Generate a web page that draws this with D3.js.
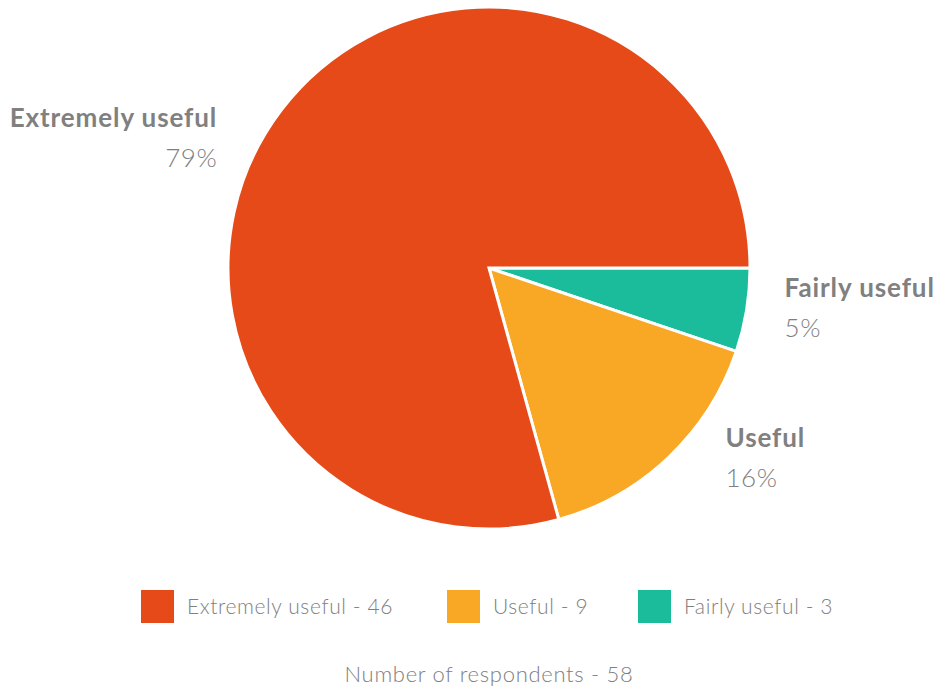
<!DOCTYPE html>
<html>
<head>
<meta charset="utf-8">
<script src="https://cdn.jsdelivr.net/npm/d3@7"></script>
<style>
  html, body { margin: 0; padding: 0; background: #ffffff; }
  svg { display: block; font-family: "Lato", "Open Sans", sans-serif; }
</style>
</head>
<body>
<svg id="chart" width="938" height="690"></svg>
<script>
// Survey responses: how useful respondents found it
const categories = ["Fairly useful", "Useful", "Extremely useful"];
const counts = [3, 9, 46];
const colors = ["#1ABC9C", "#F9A825", "#E64A19"];
const legendOrder = ["Extremely useful", "Useful", "Fairly useful"];
const footnote = "Number of respondents - 58";

const width = 938, height = 690;
const cx = 489, cy = 268, radius = 261;

const svg = d3.select("#chart");
const g = svg.append("g").attr("transform", `translate(${cx},${cy})`);

const color = d3.scaleOrdinal().domain(categories).range(colors);
const total = d3.sum(counts);
const rows = categories.map((c, i) => ({ name: c, value: counts[i] }));

// Slices run clockwise starting at 3 o'clock
const pie = d3.pie()
  .value(d => d.value)
  .sort(null)
  .startAngle(Math.PI / 2)
  .endAngle(Math.PI / 2 + 2 * Math.PI);

const arc = d3.arc().innerRadius(0).outerRadius(radius);
const arcs = pie(rows);

g.selectAll("path.slice")
  .data(arcs)
  .join("path")
  .attr("class", "slice")
  .attr("d", arc)
  .attr("fill", d => color(d.data.name))
  .attr("stroke", "#ffffff")
  .attr("stroke-width", 3)
  .attr("stroke-linejoin", "miter");

// Category labels outside the pie, placed from each slice's mid-angle
const labelArc = d3.arc().innerRadius(radius).outerRadius(radius);
const nudge = {
  "Fairly useful": [38, 0],
  "Useful": [57, 3],
  "Extremely useful": [-64, 30]
};
const labels = g.selectAll("g.label")
  .data(arcs)
  .join("g")
  .attr("class", "label")
  .attr("transform", d => {
    const [x, y] = labelArc.centroid(d);
    const [dx, dy] = nudge[d.data.name];
    return `translate(${x + dx},${y + dy})`;
  });

labels.each(function(d) {
  const mid = (d.startAngle + d.endAngle) / 2;
  const right = Math.sin(mid) > 0;
  const sel = d3.select(this);
  sel.append("text")
    .attr("text-anchor", right ? "start" : "end")
    .attr("y", -13)
    .attr("font-size", 26)
    .attr("font-weight", 700)
    .attr("letter-spacing", 0.9)
    .attr("fill", "#808080")
    .text(d.data.name);
  sel.append("text")
    .attr("text-anchor", right ? "start" : "end")
    .attr("y", 27)
    .attr("font-size", 26)
    .attr("font-weight", 300)
    .attr("letter-spacing", 0.5)
    .attr("fill", "#808080")
    .text(d3.format(".0%")(d.data.value / total));
});

// Legend
const legendPos = { "Extremely useful": 141, "Useful": 447, "Fairly useful": 638 };
const legend = svg.append("g").attr("class", "legend");
const items = legend.selectAll("g.item")
  .data(legendOrder)
  .join("g")
  .attr("class", "item")
  .attr("transform", d => `translate(${legendPos[d]},590)`);
items.append("rect")
  .attr("width", 33).attr("height", 33)
  .attr("fill", d => color(d));
items.append("text")
  .attr("x", 46).attr("y", 24)
  .attr("font-size", 21)
  .attr("font-weight", 300)
  .attr("letter-spacing", 0.6)
  .attr("fill", "#808080")
  .text(d => `${d} - ${counts[categories.indexOf(d)]}`);

svg.append("text")
  .attr("x", cx).attr("y", 682)
  .attr("text-anchor", "middle")
  .attr("font-size", 22)
  .attr("font-weight", 300)
  .attr("letter-spacing", 0.7)
  .attr("fill", "#808080")
  .text(footnote);
</script>
</body>
</html>
